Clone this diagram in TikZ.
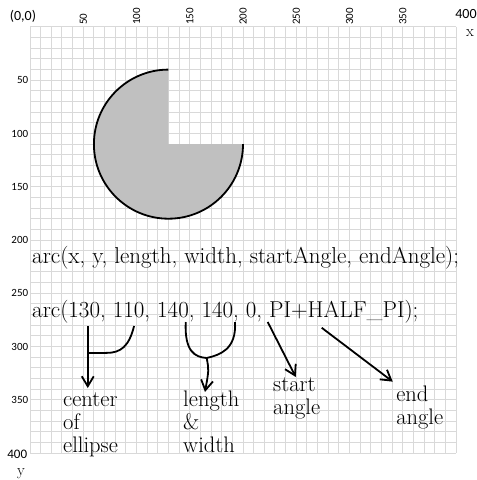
\documentclass[tikz,border=0pt]{standalone}
\usepackage{fontspec}
\usetikzlibrary{arrows.meta}
\newfontfamily\axfont{Carlito}
\definecolor{gridgray}{RGB}{217,217,217}
\definecolor{piegray}{RGB}{192,192,192}

\begin{document}
\begin{tikzpicture}[x=1.065pt,y=-1.065pt,
   gridln/.style={gridgray,line width=1pt},
   ax/.style={font=\axfont\fontsize{11}{13}\selectfont,inner sep=0pt},
   axbig/.style={font=\axfont\fontsize{14}{16}\selectfont,inner sep=0pt},
   code/.style={font=\fontsize{23}{26}\selectfont,inner sep=0pt,anchor=base west},
   lbl/.style={font=\fontsize{22.5}{23}\selectfont,inner sep=0pt,anchor=base west,align=left},
   arr/.style={-{Straight Barb[length=10pt,width=12pt]},line width=1.8pt},
   brace/.style={line width=1.8pt}]
  \useasboundingbox (-28.17,-25.35) rectangle (419.7,425.35);
  % grid and axes
  \foreach \k in {0,10,...,400}{
    \draw[gridln] (\k,0) -- (\k,400);
    \draw[gridln] (0,\k) -- (400,\k);
  }
  \foreach \v in {50,100,...,350}{
    \node[ax,rotate=90,anchor=west] (top\v) at (\v,-2) {\v};
    \node[ax,anchor=east] (left\v) at (-1.5,\v) {\v};
  }
  \node[axbig] (origin) at (-6.6,-10.3) {(0,0)};
  \node[axbig] (xmax) at (409.4,-12.2) {400};
  \node[axbig,font=\axfont\fontsize{13}{15}\selectfont,anchor=east] (ymax) at (-2.5,401.5) {400};
  \node[inner sep=0pt,font=\fontsize{16}{18}\selectfont] (xname) at (413.1,5.6) {x};
  \node[inner sep=0pt,font=\fontsize{16}{18}\selectfont] (yname) at (-8.5,419) {y};
  % the pie
  \coordinate (pc) at (130,110);
  \fill[piegray] (pc) -- (200,110) arc[start angle=0,end angle=270,radius=70] -- cycle;
  \draw[line width=1.8pt] (200,110) arc[start angle=0,end angle=270,radius=70];
  % code lines
  \node[code] (proto) at (1.9,221.6) {arc(x, y, length, width, startAngle, endAngle);};
  \node[code] (call) at (1.9,272.3) {arc(130, 110, 140, 140, 0, PI+HALF\_PI);};
  % labels (base = last line)
  \node[lbl] (center) at (31,399.1) {center\\of\\ellipse};
  \node[lbl] (lenwid) at (143.7,399.1) {length\\\&\\width};
  \node[lbl] (start) at (228.2,363.4) {start\\angle};
  \node[lbl] (end) at (343.7,372.8) {end\\angle};
  % arrows
  \coordinate (xarg) at (54.2,280.8);
  \coordinate (yarg) at (97.7,280.8);
  \coordinate (xyjoin) at (54.2,306.1);
  \coordinate (ctip) at (54.2,339);
  \draw[arr] (xarg) -- (ctip);
  \draw[brace] (yarg) .. controls (93,300) and (85,306) .. (72,306) -- (xyjoin);
  \coordinate (larg) at (146.2,277);
  \coordinate (warg) at (192.5,277);
  \coordinate (lwjoin) at (165.9,310.8);
  \coordinate (lwtip) at (164.3,342.7);
  \draw[brace] (larg) .. controls (145,305) and (155,310) .. (lwjoin);
  \draw[brace] (warg) .. controls (194,303) and (178,308) .. (lwjoin);
  \draw[arr] (lwjoin) .. controls (168,322) .. (lwtip);
  \coordinate (sarg) at (223.2,277);
  \coordinate (stip) at (249.5,328.6);
  \draw[arr] (sarg) -- (stip);
  \coordinate (earg) at (273.9,282.4);
  \coordinate (etip) at (340.6,333);
  \draw[arr] (earg) -- (etip);
\end{tikzpicture}
\end{document}
